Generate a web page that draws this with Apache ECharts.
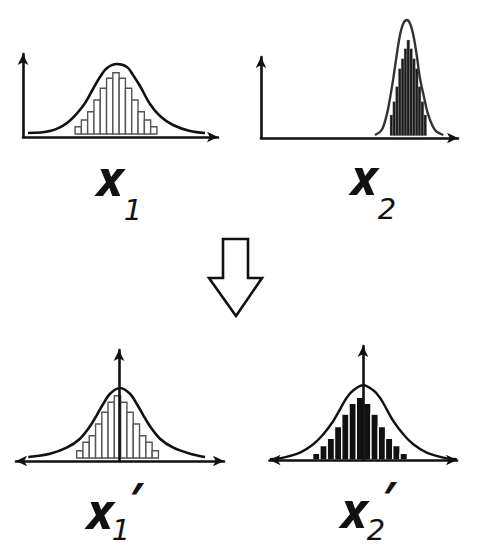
<!DOCTYPE html>
<html>
<head>
<meta charset="utf-8">
<script src="https://cdn.jsdelivr.net/npm/echarts@6/dist/echarts.min.js"></script>
<style>
html,body{margin:0;padding:0;background:#fff;}
#chart{width:486px;height:549px;}
</style>
</head>
<body>
<div id="chart"></div>
<script>
// ---- Data (units ≈ pixels relative to each panel's origin) ----
// Panel 1: x1 (wide histogram, top-left)
const p1BinX = [55.2, 61.5, 67.8, 74.1, 80.4, 86.7, 93.0, 99.3, 105.6, 111.9, 118.2, 124.5, 130.8];
const p1BinH = [7.3, 14, 22.3, 34, 45.7, 55.7, 61.3, 55.7, 45.7, 34, 22.3, 14, 7.3];
const p1CurveX = [5, 27, 44, 60, 70, 77, 84, 94, 104, 110, 117, 127, 137, 150, 167, 182];
const p1CurveY = [1, 3, 11, 28, 45, 57, 66, 70, 67, 59, 48, 30, 18, 9, 3, 1];

// Panel 2: x2 (narrow histogram, top-right)
const p2BinX = [130.4, 133.2, 136.0, 138.8, 141.6, 144.5, 147.3, 150.1, 152.9, 155.7, 158.5, 161.4, 164.2];
const p2BinH = [20.7, 34, 49, 67, 77, 87, 95.7, 87, 77, 67, 49, 34, 20.7];
const p2CurveX = [114, 120.7, 125.7, 129, 132.3, 135.7, 139, 142.3, 145.7, 149, 152.3, 155.7, 159, 163.3, 167.3, 174, 182.3];
const p2CurveY = [0.7, 5.7, 20.7, 37.3, 57.3, 80.7, 100.7, 112.3, 115.7, 112.3, 100.7, 80.7, 57.3, 37.3, 20.7, 5.7, 0.7];

// Panel 3: x1' (standardised, bottom-left)
const p3BinX = [-39.2, -32.9, -26.6, -20.3, -14.0, -7.8, -1.5, 4.8, 11.1, 17.4, 23.7, 30.0, 36.3];
const p3BinH = [7.3, 15.7, 22.3, 34, 45.7, 55.7, 62.3, 55.7, 45.7, 34, 22.3, 15.7, 7.3];
const p3CurveX = [-90.7, -69, -52.3, -39, -29, -22.3, -15.7, -9, 1, 11, 17.7, 24.3, 31, 41, 54.3, 71, 86];
const p3CurveY = [1, 4.3, 10.3, 19.3, 31.7, 42.7, 54.3, 64.3, 70, 64.3, 54.3, 42.7, 31.7, 19.3, 10.3, 4.3, 1];

// Panel 4: x2' (standardised, bottom-right)
const p4BinX = [-46.7, -39.4, -32.1, -24.8, -17.6, -10.3, -3.0, 4.3, 11.6, 18.9, 26.1, 33.4, 40.7];
const p4BinH = [6.7, 14.5, 21.7, 33.3, 45.8, 56.7, 62.7, 56.7, 45.8, 33.3, 21.7, 14.5, 6.7];
const p4CurveX = [-93, -79.7, -63, -49.7, -39.7, -29.7, -23, -16.3, -9.7, 0.3, 10.3, 17, 23.7, 30.3, 40.3, 50.3, 63.7, 80.3, 93.7];
const p4CurveY = [0.7, 2.3, 7.3, 15.7, 25.7, 39, 50.7, 62.3, 69.7, 74.7, 69.7, 62.3, 50.7, 39, 25.7, 15.7, 7.3, 2.3, 0.7];

// Labels
const labelMain = ['x', 'x', 'x', 'x'];
const labelSub = ['1', '2', '1', '2'];
const labelPrime = '\u2032';

// ---- Chart ----
const chart = echarts.init(document.getElementById('chart'), null, {renderer: 'svg'});

const grids = [
  {left: 23, top: 54, width: 195, height: 83},
  {left: 261, top: 57, width: 197, height: 81},
  {left: 16, top: 350, width: 208, height: 111},
  {left: 269.5, top: 346, width: 187.5, height: 114}
];
const xRanges = [[0, 195], [0, 197], [-103, 105], [-93.5, 94]];
const yRanges = [[-3, 80], [-2.3, 78.7], [-3, 108], [0, 114]];
const xSymbols = [['none', 'arrow'], ['none', 'arrow'], ['arrow', 'arrow'], ['arrow', 'arrow']];

const axisLineStyle = {color: '#111', width: 2.6};

const xAxes = grids.map((g, i) => ({
  type: 'value', gridIndex: i, min: xRanges[i][0], max: xRanges[i][1], z: 5,
  axisLine: {show: true, onZero: false, symbol: xSymbols[i], symbolSize: [8, 11], lineStyle: axisLineStyle},
  axisTick: {show: false}, axisLabel: {show: false}, splitLine: {show: false}
}));
const yAxes = grids.map((g, i) => ({
  type: 'value', gridIndex: i, min: yRanges[i][0], max: yRanges[i][1], z: 5,
  axisLine: {show: true, onZero: true, symbol: ['none', 'arrow'], symbolSize: [8, 11], lineStyle: axisLineStyle},
  axisTick: {show: false}, axisLabel: {show: false}, splitLine: {show: false}
}));

function binSeries(idx, xs, hs, bw, fill, stroke, lw) {
  return {
    type: 'custom', xAxisIndex: idx, yAxisIndex: idx, clip: false, z: 2,
    data: xs.map((x, k) => [x, hs[k]]),
    encode: {x: 0, y: 1},
    renderItem: function (params, api) {
      const c = api.value(0), h = api.value(1);
      const a = api.coord([c - bw / 2, 0]);
      const b = api.coord([c + bw / 2, h]);
      return {
        type: 'rect',
        shape: {x: a[0], y: b[1], width: b[0] - a[0], height: a[1] - b[1]},
        style: {fill: fill, stroke: stroke, lineWidth: lw}
      };
    }
  };
}
function curveSeries(idx, xs, ys, color, w) {
  return {
    type: 'line', xAxisIndex: idx, yAxisIndex: idx, clip: false, z: 3,
    data: xs.map((x, k) => [x, ys[k]]),
    smooth: 0.35, showSymbol: false, silent: true,
    lineStyle: {color: color, width: w}
  };
}

const series = [
  binSeries(0, p1BinX, p1BinH, 6.3, '#fff', '#555', 1.4),
  curveSeries(0, p1CurveX, p1CurveY, '#111', 2.6),
  binSeries(1, p2BinX, p2BinH, 2.82, '#1c1c1c', '#999', 0.35),
  curveSeries(1, p2CurveX, p2CurveY, '#333', 2.4),
  binSeries(2, p3BinX, p3BinH, 6.28, '#fff', '#555', 1.4),
  curveSeries(2, p3CurveX, p3CurveY, '#111', 2.6),
  binSeries(3, p4BinX, p4BinH, 7.28, '#111', '#fff', 1.3),
  curveSeries(3, p4CurveX, p4CurveY, '#111', 2.4)
];

const mainFont = {fontFamily: 'Open Sans', fontStyle: 'italic', fontWeight: 'bold', fontSize: 50, fill: '#111'};
const subFont = {fontFamily: 'DejaVu Sans', fontStyle: 'italic', fontWeight: 'normal', fontSize: 29, fill: '#111'};
const primeFont = {fontFamily: 'Open Sans', fontStyle: 'italic', fontWeight: 'bold', fontSize: 44, fill: '#111'};

function txt(s, x, y, font) {
  return {type: 'text', style: Object.assign({text: s, x: x, y: y, align: 'center', verticalAlign: 'middle'}, font)};
}

const graphic = [
  // hollow down arrow
  {type: 'polygon', shape: {points: [[223, 239], [248, 239], [248, 278], [262, 278], [236, 316], [209, 278], [223, 278]]},
   style: {fill: '#fff', stroke: '#111', lineWidth: 2.6}},
  txt(labelMain[0], 110, 177, mainFont),
  txt(labelSub[0], 133, 210, subFont),
  txt(labelMain[1], 364, 176, mainFont),
  txt(labelSub[1], 387, 209, subFont),
  txt(labelMain[2], 100, 510, mainFont),
  txt(labelSub[2], 121, 530, subFont),
  txt(labelPrime, 135, 498, primeFont),
  txt(labelMain[3], 354, 509, mainFont),
  txt(labelSub[3], 376, 530, subFont),
  txt(labelPrime, 388, 497, primeFont)
];

chart.setOption({
  animation: false,
  backgroundColor: '#fff',
  grid: grids,
  xAxis: xAxes,
  yAxis: yAxes,
  series: series,
  graphic: graphic
});
</script>
</body>
</html>
